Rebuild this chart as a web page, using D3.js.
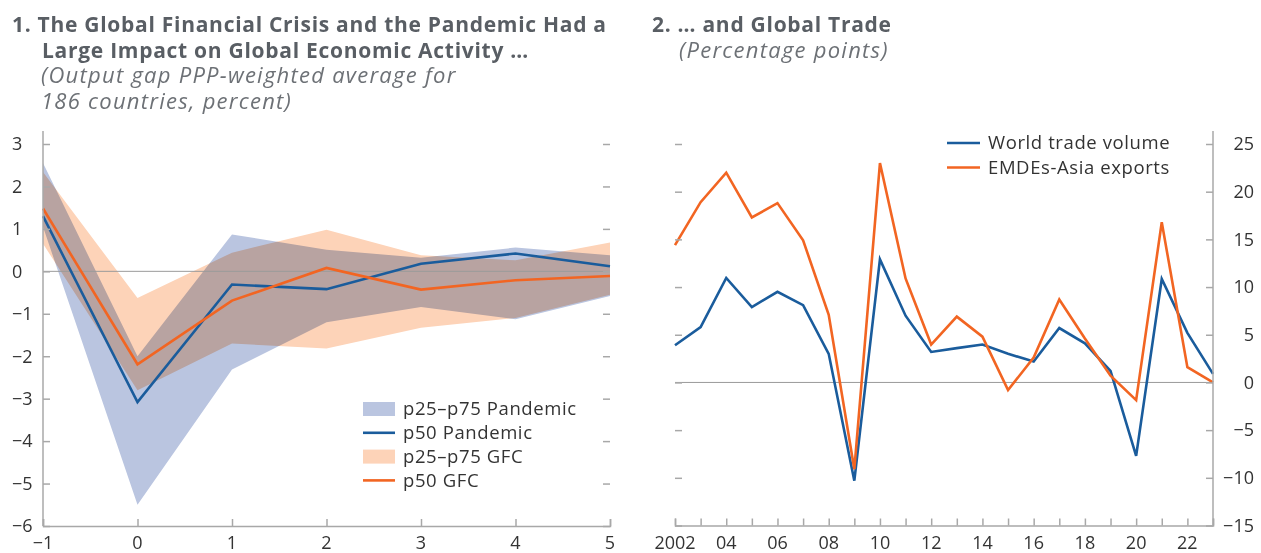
<!DOCTYPE html>
<html>
<head>
<meta charset="utf-8">
<script src="https://cdnjs.cloudflare.com/ajax/libs/d3/7.8.5/d3.min.js"></script>
<style>
  body { margin: 0; background: #fff; }
  svg { display: block; font-family: "Open Sans", sans-serif; }
  .band { mix-blend-mode: multiply; }
  .legend text { font-size: 18.5px; letter-spacing: 0.6px; }
</style>
</head>
<body>
<div id="frame"></div>
<script>
'use strict'

// panel 1: output gap around the shock year
var gapX = [-1, 0, 1, 2, 3, 4, 5]
var pandemicP25 = [1.05, -5.5, -2.31, -1.2, -0.84, -1.13, -0.58]
var pandemicP50 = [1.3, -3.08, -0.31, -0.42, 0.18, 0.42, 0.12]
var pandemicP75 = [2.55, -2.0, 0.87, 0.51, 0.32, 0.56, 0.38]
var gfcP25 = [0.65, -2.8, -1.7, -1.82, -1.33, -1.1, -0.55]
var gfcP50 = [1.48, -2.19, -0.69, 0.08, -0.43, -0.21, -0.11]
var gfcP75 = [2.34, -0.63, 0.44, 0.98, 0.38, 0.26, 0.68]
var gapTicks = [-6, -5, -4, -3, -2, -1, 0, 1, 2, 3]

// panel 2: trade growth
var years = d3.range(2002, 2024)
var worldTrade = [3.9, 5.8, 10.95, 7.9, 9.5, 8.1, 3.0, -10.3, 12.9, 7.0, 3.2, 3.6, 3.97, 3.0, 2.2, 5.7, 4.1, 1.2, -7.7, 10.85, 5.2, 0.9]
var asiaExports = [14.4, 18.9, 22.0, 17.3, 18.8, 14.9, 7.1, -9.1, 23.0, 10.9, 3.97, 6.9, 4.8, -0.8, 2.6, 8.7, 4.6, 0.7, -1.85, 16.8, 1.6, 0.0]
var tradeTicks = [-15, -10, -5, 0, 5, 10, 15, 20, 25]
var yearLabels = ["2002", "04", "06", "08", "10", "12", "14", "16", "18", "20", "22"]

var blue = "#1a5c9c"
var orange = "#f26522"
var blueBand = "#bac5e0"
var peachBand = "#fdd3b8"
var axisGrey = "#a8a8a8"
var textDark = "#333"

var svg = d3.select("#frame")
  .append("svg")
  .attr("width", 1261)
  .attr("height", 553)

// titles
var titles = svg.append("g").attr("class", "titles")
var addText = function(x, y, str, bold) {
  titles.append("text")
    .attr("x", x)
    .attr("y", y)
    .style("font-size", bold ? "21px" : "22px")
    .style("letter-spacing", bold ? "0.72px" : "1.25px")
    .style("font-weight", bold ? 700 : 400)
    .style("font-style", bold ? "normal" : "italic")
    .style("fill", bold ? "#595e64" : "#6d7176")
    .text(str)
}
addText(12, 32, "1. The Global Financial Crisis and the Pandemic Had a", true)
addText(42, 58, "Large Impact on Global Economic Activity …", true)
addText(41, 83, "(Output gap PPP-weighted average for", false)
addText(41, 109, "186 countries, percent)", false)
addText(652, 32, "2. … and Global Trade", true)
addText(679, 58, "(Percentage points)", false)

// ---------- panel 1 ----------
var x1 = d3.scaleLinear().domain([-1, 5]).range([43, 610])
var y1 = d3.scaleLinear().domain([-6, 3]).range([526, 144])
var p1 = svg.append("g").attr("class", "panel1")

var gapRows = gapX.map(function(d, i) {
  return { x: d, pLo: pandemicP25[i], pMid: pandemicP50[i], pHi: pandemicP75[i],
    gLo: gfcP25[i], gMid: gfcP50[i], gHi: gfcP75[i] }
})

p1.append("path")
  .datum(gapRows)
  .attr("class", "band")
  .attr("fill", peachBand)
  .attr("d", d3.area().x(d => x1(d.x)).y0(d => y1(d.gLo)).y1(d => y1(d.gHi)))
p1.append("path")
  .datum(gapRows)
  .attr("class", "band")
  .attr("fill", blueBand)
  .attr("d", d3.area().x(d => x1(d.x)).y0(d => y1(d.pLo)).y1(d => y1(d.pHi)))

// zero line
p1.append("line")
  .attr("x1", x1(-1)).attr("x2", x1(5))
  .attr("y1", y1(0)).attr("y2", y1(0))
  .attr("stroke", "#9a9a9a").attr("stroke-width", 1)

p1.append("path")
  .datum(gapRows)
  .attr("fill", "none").attr("stroke", blue).attr("stroke-width", 2.6)
  .attr("d", d3.line().x(d => x1(d.x)).y(d => y1(d.pMid)))
p1.append("path")
  .datum(gapRows)
  .attr("fill", "none").attr("stroke", orange).attr("stroke-width", 2.6)
  .attr("d", d3.line().x(d => x1(d.x)).y(d => y1(d.gMid)))

// axes, ticks inside
var leftAx1 = p1.append("g")
  .attr("transform", "translate(" + x1(-1) + ",0)")
  .call(d3.axisRight(y1).tickValues(gapTicks).tickSize(7).tickFormat(""))
leftAx1.select(".domain").remove()
leftAx1.append("line").attr("y1", 131).attr("y2", y1(-6)).attr("stroke", axisGrey).attr("stroke-width", 1.5)

var rightAx1 = p1.append("g")
  .attr("transform", "translate(" + x1(5) + ",0)")
  .call(d3.axisLeft(y1).tickValues(gapTicks).tickSize(7).tickFormat(""))
rightAx1.select(".domain").remove()

var botAx1 = p1.append("g")
  .attr("transform", "translate(0," + y1(-6) + ")")
  .call(d3.axisTop(x1).tickValues(gapX).tickSize(7).tickFormat(""))
botAx1.select(".domain").attr("stroke", axisGrey).attr("stroke-width", 1.5)

p1.selectAll(".tick line").attr("stroke", axisGrey).attr("stroke-width", 1.5)

p1.append("g").selectAll("text")
  .data(gapTicks)
  .join("text")
  .attr("x", 12)
  .attr("y", d => y1(d))
  .attr("dy", "0.35em")
  .style("font-size", "18px")
  .style("fill", textDark)
  .text(d => String(d).replace("-", "\u2212"))

p1.append("g").selectAll("text")
  .data(gapX)
  .join("text")
  .attr("x", d => x1(d))
  .attr("y", 549)
  .attr("text-anchor", "middle")
  .style("font-size", "18px")
  .style("fill", textDark)
  .text(d => String(d).replace("-", "\u2212"))

// legend panel 1
var leg1 = [
  { label: "p25\u2013p75 Pandemic", kind: "rect", color: blueBand },
  { label: "p50 Pandemic", kind: "line", color: blue },
  { label: "p25\u2013p75 GFC", kind: "rect", color: peachBand },
  { label: "p50 GFC", kind: "line", color: orange }
]
var lg1 = p1.append("g").attr("class", "legend").selectAll("g")
  .data(leg1)
  .join("g")
  .attr("transform", (d, i) => "translate(363," + (409 + i * 23.8) + ")")
lg1.each(function(d) {
  var g = d3.select(this)
  if (d.kind === "rect") {
    g.append("rect").attr("x", 0).attr("y", -7).attr("width", 32).attr("height", 14).attr("fill", d.color)
  } else {
    g.append("line").attr("x1", 0).attr("x2", 32).attr("stroke", d.color).attr("stroke-width", 2.6)
  }
  g.append("text")
    .attr("x", 40)
    .attr("dy", "0.35em")
    .style("fill", textDark)
    .text(d.label)
})

// ---------- panel 2 ----------
var x2 = d3.scaleLinear().domain([2002, 2023]).range([675, 1213])
var y2 = d3.scaleLinear().domain([-15, 25]).range([525.5, 144])
var p2 = svg.append("g").attr("class", "panel2")

p2.append("line")
  .attr("x1", x2(2002)).attr("x2", x2(2023))
  .attr("y1", y2(0)).attr("y2", y2(0))
  .attr("stroke", "#9a9a9a").attr("stroke-width", 1)

var tradeSeries = [
  { name: "World trade volume", values: worldTrade, color: blue },
  { name: "EMDEs-Asia exports", values: asiaExports, color: orange }
]
p2.selectAll("path.series")
  .data(tradeSeries)
  .join("path")
  .attr("class", "series")
  .attr("fill", "none")
  .attr("stroke", d => d.color)
  .attr("stroke-width", 2.6)
  .attr("d", d => d3.line().x((v, i) => x2(years[i])).y(v => y2(v))(d.values))

var leftAx2 = p2.append("g")
  .attr("transform", "translate(" + x2(2002) + ",0)")
  .call(d3.axisRight(y2).tickValues(tradeTicks).tickSize(7).tickFormat(""))
leftAx2.select(".domain").remove()

var rightAx2 = p2.append("g")
  .attr("transform", "translate(" + x2(2023) + ",0)")
  .call(d3.axisLeft(y2).tickValues(tradeTicks).tickSize(7).tickFormat(""))
rightAx2.select(".domain").remove()
rightAx2.append("line").attr("y1", 131).attr("y2", y2(-15)).attr("stroke", axisGrey).attr("stroke-width", 1.5)

var botAx2 = p2.append("g")
  .attr("transform", "translate(0," + y2(-15) + ")")
  .call(d3.axisTop(x2).tickValues(years).tickSize(7).tickFormat(""))
botAx2.select(".domain").attr("stroke", axisGrey).attr("stroke-width", 1.5)

p2.selectAll(".tick line").attr("stroke", axisGrey).attr("stroke-width", 1.5)

p2.append("g").selectAll("text")
  .data(tradeTicks)
  .join("text")
  .attr("x", 1254)
  .attr("y", d => y2(d))
  .attr("dy", "0.35em")
  .attr("text-anchor", "end")
  .style("font-size", "18px")
  .style("fill", textDark)
  .text(d => String(d).replace("-", "\u2212"))

p2.append("g").selectAll("text")
  .data(yearLabels)
  .join("text")
  .attr("x", (d, i) => x2(2002 + i * 2))
  .attr("y", 549)
  .attr("text-anchor", "middle")
  .style("font-size", "18px")
  .style("fill", textDark)
  .text(d => d)

var lg2 = p2.append("g").attr("class", "legend").selectAll("g")
  .data(tradeSeries)
  .join("g")
  .attr("transform", (d, i) => "translate(947," + (143 + i * 24.5) + ")")
lg2.append("line").attr("x1", 0).attr("x2", 33).attr("stroke", d => d.color).attr("stroke-width", 2.6)
lg2.append("text")
  .attr("x", 41)
  .attr("dy", "0.35em")
  .style("fill", textDark)
  .text(d => d.name)
</script>
</body>
</html>
